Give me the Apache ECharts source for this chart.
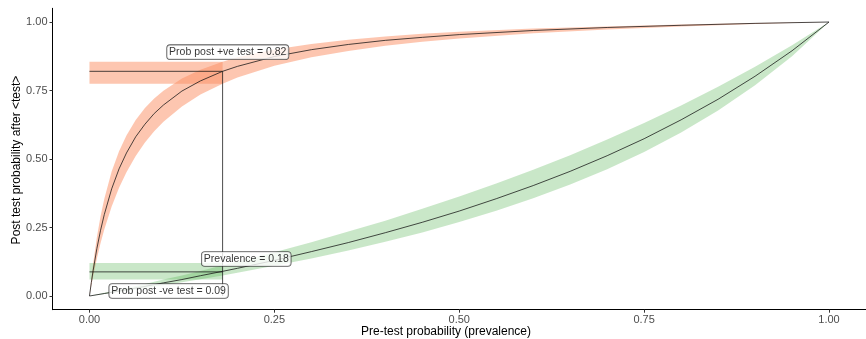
<!DOCTYPE html>
<html>
<head>
<meta charset="utf-8">
<script src="https://cdn.jsdelivr.net/npm/echarts@6/dist/echarts.min.js"></script>
<style>html,body{margin:0;padding:0;background:#fff}#c{width:866px;height:339px}</style>
</head>
<body>
<div id="c"></div>
<script>
// ---- data ----
var tickValues = [0, 0.25, 0.5, 0.75, 1];
var tickLabels = ['0.00', '0.25', '0.50', '0.75', '1.00'];

var posX   = [0, 0.0025, 0.005, 0.01, 0.015, 0.02, 0.03, 0.04, 0.05, 0.0625, 0.075, 0.0875, 0.1, 0.125, 0.15, 0.18, 0.2, 0.25, 0.3, 0.35, 0.4, 0.45, 0.5, 0.6, 0.7, 0.8, 0.9, 1];
var posMid = [0, 0.049, 0.094, 0.173, 0.240, 0.297, 0.391, 0.464, 0.522, 0.581, 0.627, 0.666, 0.697, 0.748, 0.785, 0.82, 0.838, 0.874, 0.899, 0.918, 0.933, 0.944, 0.954, 0.969, 0.980, 0.988, 0.995, 1];
var posLo  = [0, 0.038, 0.073, 0.137, 0.193, 0.243, 0.327, 0.395, 0.452, 0.511, 0.560, 0.601, 0.636, 0.692, 0.735, 0.775, 0.797, 0.840, 0.871, 0.894, 0.913, 0.928, 0.940, 0.959, 0.973, 0.984, 0.993, 1];
var posHi  = [0, 0.063, 0.119, 0.214, 0.291, 0.354, 0.454, 0.528, 0.586, 0.642, 0.686, 0.721, 0.749, 0.794, 0.826, 0.855, 0.871, 0.900, 0.920, 0.935, 0.947, 0.957, 0.964, 0.976, 0.984, 0.991, 0.996, 1];

var negX   = [0, 0.02, 0.04, 0.075, 0.1, 0.125, 0.15, 0.18, 0.2, 0.25, 0.3, 0.35, 0.4, 0.45, 0.5, 0.55, 0.6, 0.65, 0.7, 0.75, 0.8, 0.85, 0.9, 0.95, 1];
var negMid = [0, 0.009, 0.018, 0.035, 0.048, 0.060, 0.074, 0.090, 0.101, 0.130, 0.162, 0.195, 0.231, 0.269, 0.310, 0.355, 0.403, 0.455, 0.512, 0.574, 0.643, 0.718, 0.802, 0.895, 1];
var negLo  = [0, 0.0075, 0.015, 0.029, 0.039, 0.050, 0.061, 0.075, 0.085, 0.110, 0.137, 0.166, 0.198, 0.232, 0.270, 0.311, 0.357, 0.407, 0.463, 0.526, 0.597, 0.677, 0.769, 0.875, 1];
var negHi  = [0, 0.0115, 0.023, 0.044, 0.060, 0.075, 0.091, 0.112, 0.125, 0.160, 0.196, 0.235, 0.275, 0.318, 0.363, 0.411, 0.461, 0.514, 0.571, 0.631, 0.695, 0.764, 0.837, 0.915, 1];

var prevalence = 0.18;
var posValue = 0.82, posBand = [0.775, 0.855];
var negValue = 0.088, negBand = [0.06, 0.12];

var labelTexts = ['Prob post +ve test = 0.82', 'Prevalence = 0.18', 'Prob post -ve test = 0.09'];
var labelX = [0.187, 0.212, 0.107];
var labelY = [0.89, 0.135, 0.018];

// ---- styles ----
var ORANGE_FILL = 'rgba(252,141,98,0.5)';
var GREEN_FILL = 'rgba(77,175,74,0.3)';
var LINE_COL = 'rgba(20,20,20,0.85)';

function zip(xs, ys) { return xs.map(function (x, i) { return [x, ys[i]]; }); }

function ribbonSeries(xs, lo, hi, fill) {
  return {
    type: 'custom',
    silent: true,
    data: [[0, 0]],
    renderItem: function (params, api) {
      var pts = [];
      for (var i = 0; i < xs.length; i++) pts.push(api.coord([xs[i], hi[i]]));
      for (var j = xs.length - 1; j >= 0; j--) pts.push(api.coord([xs[j], lo[j]]));
      return { type: 'polygon', shape: { points: pts }, style: { fill: fill } };
    },
    z: 1
  };
}
function bandSeries(x0, x1, band, fill) {
  return ribbonSeries([x0, x1], [band[0], band[0]], [band[1], band[1]], fill);
}
function lineSeries(data) {
  return {
    type: 'line', data: data, showSymbol: false, symbol: 'none', silent: true,
    lineStyle: { color: LINE_COL, width: 0.9 }, z: 3, animation: false
  };
}

function fmt(v) { return tickLabels[tickValues.indexOf(Math.round(v * 100) / 100)]; }
function makeAxis() {
  return {
    type: 'value', min: -0.05, max: 1.05,
    splitLine: { show: false },
    axisLine: { show: true, onZero: false, lineStyle: { color: '#000', width: 1 } },
    axisTick: { show: true, length: 3, lineStyle: { color: '#333' }, customValues: tickValues },
    axisLabel: {
      customValues: tickValues, color: '#4D4D4D', fontSize: 11, fontFamily: 'Liberation Sans',
      margin: 5, formatter: fmt
    }
  };
}

var chart = echarts.init(document.getElementById('c'), null, { renderer: 'canvas' });

var labelSeries = {
  type: 'scatter', symbolSize: 0, silent: true, z: 10,
  data: labelX.map(function (x, i) { return { value: [x, labelY[i]], name: labelTexts[i] }; }),
  label: {
    show: true, position: 'inside', formatter: '{b}',
    fontSize: 10.5, fontFamily: 'Liberation Sans', color: '#000',
    backgroundColor: '#fff', borderColor: '#333', borderWidth: 0.8, borderRadius: 3,
    padding: [2, 2, 1, 2]
  }
};

chart.setOption({
  animation: false,
  backgroundColor: '#fff',
  grid: { left: 52.5, top: 8.3, width: 825, height: 301.4, containLabel: false },
  xAxis: makeAxis(),
  yAxis: makeAxis(),
  graphic: [
    { type: 'text', x: 446, y: 332, style: { text: 'Pre-test probability (prevalence)', fill: '#000', fontSize: 12, fontFamily: 'Liberation Sans', textAlign: 'center', textVerticalAlign: 'middle' } },
    { type: 'text', x: 17, y: 160, rotation: Math.PI / 2, style: { text: 'Post test probability after <test>', fill: '#000', fontSize: 12, fontFamily: 'Liberation Sans', textAlign: 'center', textVerticalAlign: 'middle' } }
  ],
  series: [
    ribbonSeries(posX, posLo, posHi, ORANGE_FILL),
    ribbonSeries(negX, negLo, negHi, GREEN_FILL),
    bandSeries(0, prevalence, posBand, ORANGE_FILL),
    bandSeries(0, prevalence, negBand, GREEN_FILL),
    lineSeries(zip(posX, posMid)),
    lineSeries(zip(negX, negMid)),
    lineSeries([[0, posValue], [prevalence, posValue]]),
    lineSeries([[0, negValue], [prevalence, negValue]]),
    lineSeries([[prevalence, 0], [prevalence, posValue]]),
    labelSeries
  ]
});
</script>
</body>
</html>
